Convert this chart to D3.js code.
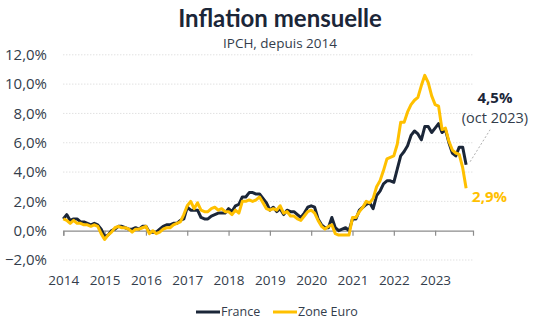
<!DOCTYPE html>
<html>
<head>
<meta charset="utf-8">
<script src="https://cdn.jsdelivr.net/npm/d3@7"></script>
<style>
  body { margin: 0; background: #fff; }
  text { font-family: "Open Sans", sans-serif; }
</style>
</head>
<body>
<div id="chart"></div>
<script>
var width = 536, height = 321;

// monthly, Jan 2014 -> Oct 2023
var startYear = 2014;
var france = [
  0.8, 1.1, 0.7, 0.8, 0.8, 0.6, 0.6, 0.5, 0.4, 0.5, 0.4, 0.1,
  -0.4, -0.3, 0.0, 0.1, 0.3, 0.3, 0.2, 0.1, 0.1, 0.2, 0.1, 0.3,
  0.3, -0.1, -0.1, -0.1, 0.1, 0.3, 0.4, 0.4, 0.5, 0.5, 0.7, 0.8,
  1.6, 1.4, 1.4, 1.4, 0.9, 0.8, 0.8, 1.0, 1.1, 1.2, 1.2, 1.2,
  1.5, 1.3, 1.7, 1.8, 2.3, 2.3, 2.6, 2.6, 2.5, 2.5, 2.2, 1.9,
  1.4, 1.6, 1.3, 1.5, 1.1, 1.4, 1.3, 1.3, 1.1, 0.9, 1.2, 1.6,
  1.7, 1.6, 0.8, 0.4, 0.2, 0.2, 0.9, 0.2, 0.0, 0.1, 0.2, 0.0,
  0.8, 0.8, 1.4, 1.6, 1.8, 1.9, 1.5, 2.4, 2.7, 3.2, 3.4, 3.4,
  3.3, 4.2, 5.1, 5.4, 5.8, 6.5, 6.8, 6.6, 6.2, 7.1, 7.1, 6.7,
  7.0, 7.3, 6.7, 6.9, 6.0, 5.3, 5.1, 5.7, 5.7, 4.5
];
var zoneEuro = [
  0.8, 0.7, 0.5, 0.7, 0.5, 0.5, 0.4, 0.4, 0.3, 0.4, 0.3, -0.2,
  -0.6, -0.3, -0.1, 0.2, 0.3, 0.2, 0.2, 0.1, -0.1, 0.1, 0.1, 0.2,
  0.3, -0.2, 0.0, -0.2, -0.1, 0.1, 0.2, 0.2, 0.4, 0.5, 0.6, 1.1,
  1.7, 2.0, 1.5, 1.9, 1.4, 1.3, 1.3, 1.5, 1.6, 1.4, 1.5, 1.3,
  1.3, 1.1, 1.4, 1.2, 2.0, 2.0, 2.1, 2.0, 2.1, 2.3, 1.9, 1.5,
  1.4, 1.5, 1.4, 1.7, 1.2, 1.3, 1.0, 1.0, 0.8, 0.7, 1.0, 1.3,
  1.4, 1.2, 0.7, 0.3, 0.1, 0.3, 0.4, -0.2, -0.3, -0.3, -0.3, -0.3,
  0.9, 0.9, 1.3, 1.6, 2.0, 1.9, 2.2, 3.0, 3.4, 4.1, 4.9, 5.0,
  5.1, 5.9, 7.4, 7.4, 8.1, 8.6, 8.9, 9.1, 9.9, 10.6, 10.1, 9.2,
  8.6, 8.5, 6.9, 7.0, 6.1, 5.5, 5.3, 5.2, 4.3, 2.9
];
var yearTicks = [2014, 2015, 2016, 2017, 2018, 2019, 2020, 2021, 2022, 2023];
var yTicks = [-2, 0, 2, 4, 6, 8, 10, 12];
var seriesNames = ["France", "Zone Euro"];
var colors = { "France": "#1b2638", "Zone Euro": "#ffc000" };

var fr = d3.formatLocale({ decimal: ",", thousands: " ", grouping: [3], currency: ["", " €"] });
var fmt = function(d) { return fr.format(".1f")(d) + "%"; };

var svg = d3.select("#chart").append("svg")
    .attr("width", width)
    .attr("height", height);

var x = d3.scaleLinear()
    .domain([2014, 2023 + 11 / 12])
    .range([63.3, 473]);

var y = d3.scaleLinear()
    .domain([-2, 12])
    .range([260, 54.8]);

var dateOf = function(i) { return startYear + i / 12; };

// gridlines
svg.append("g")
    .selectAll("line")
    .data(yTicks.filter(function(d) { return d !== 0; }))
    .enter().append("line")
    .attr("x1", x(2014)).attr("x2", x.range()[1])
    .attr("y1", function(d) { return y(d); })
    .attr("y2", function(d) { return y(d); })
    .attr("stroke", "#d4d4d4")
    .attr("stroke-width", 1)
    .attr("stroke-dasharray", "1,2");

// y labels
svg.append("g")
    .selectAll("text")
    .data(yTicks)
    .enter().append("text")
    .attr("x", 47)
    .attr("y", function(d) { return y(d); })
    .attr("dy", "0.35em")
    .attr("text-anchor", "end")
    .attr("fill", "#333d4b")
    .style("font-size", "15px")
    .text(fmt);

// x axis at 0
var xAxis = d3.axisBottom(x)
    .tickValues(yearTicks)
    .tickSize(5)
    .tickFormat(d3.format("d"));

var gx = svg.append("g")
    .attr("transform", "translate(0," + y(0) + ")")
    .call(xAxis);
gx.select(".domain").attr("stroke", "#8c8c8c").attr("stroke-width", 1.2);
gx.selectAll(".tick line").attr("stroke", "#8c8c8c").attr("stroke-width", 1.2);
gx.selectAll(".tick text")
    .attr("y", 0)
    .attr("dy", "0.35em")
    .attr("transform", "translate(0," + (280 - y(0)) + ")")
    .attr("fill", "#333d4b")
    .style("font-size", "13.5px")
    .style("font-family", "'Open Sans', sans-serif");

// lines
var line = d3.line()
    .x(function(d, i) { return x(dateOf(i)); })
    .y(function(d) { return y(d); });

svg.append("path")
    .datum(france)
    .attr("d", line)
    .attr("fill", "none")
    .attr("stroke", colors["France"])
    .attr("stroke-width", 3)
    .attr("stroke-linejoin", "round");

svg.append("path")
    .datum(zoneEuro)
    .attr("d", line)
    .attr("fill", "none")
    .attr("stroke", colors["Zone Euro"])
    .attr("stroke-width", 3)
    .attr("stroke-linejoin", "round");

// annotations
var last = france.length - 1;
var lx = x(dateOf(last)), ly = y(france[last]);
svg.append("line")
    .attr("x1", lx + 4).attr("y1", ly - 3)
    .attr("x2", lx + 24).attr("y2", ly - 35)
    .attr("stroke", "#b0b0b0")
    .attr("stroke-dasharray", "2,2");

svg.append("text")
    .attr("x", 495).attr("y", 103)
    .attr("text-anchor", "middle")
    .attr("fill", "#1b2638")
    .style("font-size", "15px")
    .style("font-weight", "bold")
    .text(fmt(france[last]));

svg.append("text")
    .attr("x", 495).attr("y", 123)
    .attr("text-anchor", "middle")
    .attr("fill", "#333d4b")
    .style("font-size", "14.5px")
    .text("(oct 2023)");

svg.append("text")
    .attr("x", lx + 6).attr("y", y(zoneEuro[last]) + 14)
    .attr("fill", "#ffc000")
    .style("font-size", "15px")
    .style("font-weight", "bold")
    .text(fmt(zoneEuro[last]));

// title
svg.append("text")
    .attr("x", 280).attr("y", 27)
    .attr("text-anchor", "middle")
    .attr("fill", "#1b2638")
    .style("font-family", "Lato, sans-serif")
    .style("font-size", "24px")
    .style("font-weight", "bold")
    .text("Inflation mensuelle");

svg.append("text")
    .attr("x", 280).attr("y", 48)
    .attr("text-anchor", "middle")
    .attr("fill", "#333d4b")
    .style("font-size", "13.5px")
    .text("IPCH, depuis 2014");

// legend
var legend = svg.append("g").attr("transform", "translate(196,312)");
var lg = legend.selectAll("g")
    .data(seriesNames)
    .enter().append("g")
    .attr("transform", function(d, i) { return "translate(" + (i * 77) + ",0)"; });
lg.append("line")
    .attr("x1", 0).attr("x2", 24)
    .attr("stroke", function(d) { return colors[d]; })
    .attr("stroke-width", 3);
lg.append("text")
    .attr("x", 25).attr("dy", "0.35em")
    .attr("fill", "#333d4b")
    .style("font-size", "12.5px")
    .text(function(d) { return d; });
</script>
</body>
</html>
